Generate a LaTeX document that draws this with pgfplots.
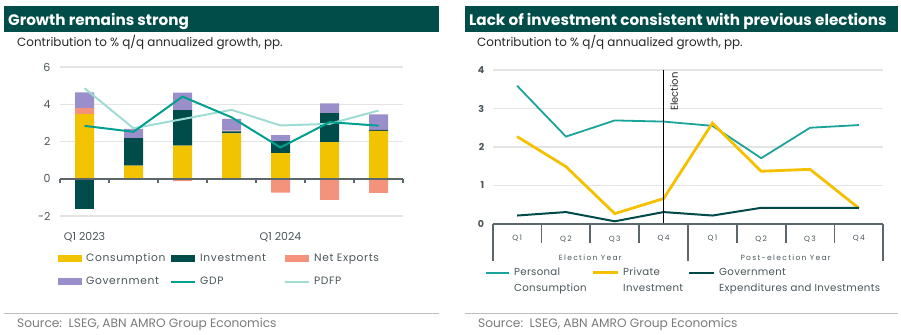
\documentclass[border=0pt]{standalone}
\usepackage{fontspec}
\setmainfont{Poppins}
\newfontfamily\lsfont[LetterSpace=6]{Poppins}
\newfontfamily\rlfont[LetterSpace=3]{Poppins}
\newfontfamily\qfont[LetterSpace=18]{Poppins}
\usepackage{pgfplots}
\pgfplotsset{compat=1.18}
\definecolor{hdr}{HTML}{004D4A}
\definecolor{ccons}{HTML}{F2C300}
\definecolor{cinv}{HTML}{004C4A}
\definecolor{cnx}{HTML}{F4937C}
\definecolor{cgov}{HTML}{9B8FCB}
\definecolor{cgdp}{HTML}{00A090}
\definecolor{cpdfp}{HTML}{9FDCD4}
\definecolor{gridc}{HTML}{E4E4E4}
\definecolor{axisc}{HTML}{5C676B}
\definecolor{tickc}{HTML}{4A5559}
\definecolor{srcc}{HTML}{7A7A7A}
\definecolor{rulec}{HTML}{BDBDBD}
\definecolor{cpc}{HTML}{1AA39A}
\definecolor{cpi}{HTML}{F5C000}
\definecolor{cgv}{HTML}{004B49}
\begin{document}
\begin{tikzpicture}
\path[use as bounding box] (0,0) rectangle (901bp,335bp);
% headers
\fill[hdr] (4bp,303bp) rectangle (439bp,329bp);
\fill[hdr] (465bp,303bp) rectangle (898bp,329bp);
\node[anchor=base west, text=white, inner sep=0pt, font=\fontsize{15.2bp}{17bp}\selectfont\bfseries] at (8bp,309bp) {Growth remains strong};
\node[anchor=base west, text=white, inner sep=0pt, font=\fontsize{15.2bp}{17bp}\selectfont\bfseries] at (469bp,309bp) {Lack of investment consistent with previous elections};
\node[anchor=base west, text=black!85, inner sep=0pt, font=\fontsize{11.95bp}{14bp}\selectfont] at (17bp,288bp) {Contribution to \% q/q annualized growth, pp.};
\node[anchor=base west, text=black!85, inner sep=0pt, font=\fontsize{11.95bp}{14bp}\selectfont] at (477bp,288bp) {Contribution to \% q/q annualized growth, pp.};
% source
\draw[rulec, line width=0.8bp] (4bp,22bp) -- (439bp,22bp);
\draw[rulec, line width=0.8bp] (465bp,22bp) -- (898bp,22bp);
\node[anchor=base west, text=srcc, inner sep=0pt, font=\fontsize{12.2bp}{14bp}\selectfont] at (17bp,7.5bp) {Source:\ \ LSEG, ABN AMRO Group Economics};
\node[anchor=base west, text=srcc, inner sep=0pt, font=\fontsize{12.2bp}{14bp}\selectfont] at (478bp,7.5bp) {Source:\ \ LSEG, ABN AMRO Group Economics};

% ---------- left chart: positive stacks ----------
\begin{axis}[
  at={(60bp,119bp)}, anchor=south west, scale only axis,
  width=343bp, height=149bp,
  xmin=-0.5, xmax=6.5, ymin=-2, ymax=6,
  ybar stacked, bar width=19bp,
  axis line style={draw=none}, major tick length=0pt,
  ymajorgrids, grid style={gridc, line width=1.1bp},
  xtick={0,4}, xticklabels={Q1 2023,Q1 2024},
  ytick={-2,0,2,4,6}, yticklabels={-2,0,2,4,6},
  tick label style={font=\fontsize{11bp}{13bp}\selectfont, text=tickc},
  xticklabel style={yshift=-13bp},
  yticklabel style={xshift=-6bp},
  clip=false,
  legend columns=3,
  legend style={at={(-0.006,-0.25)}, anchor=north west, draw=none, fill=none,
    inner sep=0pt, nodes={inner sep=0pt}, row sep=14bp,
    font=\lsfont\fontsize{10.7bp}{13bp}\selectfont, text=tickc,
    /tikz/every odd column/.append style={column sep=4bp}},
  legend cell align=left,
]
\addplot[fill=ccons, draw=none, legend image code/.code={\fill[ccons] (0bp,-3.5bp) rectangle (24bp,3.5bp);}]
  coordinates {(0,3.47) (1,0.70) (2,1.78) (3,2.44) (4,1.37) (5,1.96) (6,2.57)};
\addlegendentry{\makebox[84bp][l]{Consumption}}
\addplot[fill=cinv, draw=none, legend image code/.code={\fill[cinv] (0bp,-3.5bp) rectangle (24bp,3.5bp);}]
  coordinates {(0,0) (1,1.48) (2,1.90) (3,0.10) (4,0.65) (5,1.57) (6,0.05)};
\addlegendentry{\makebox[84bp][l]{Investment}}
\addplot[fill=cnx, draw=none, legend image code/.code={\fill[cnx] (0bp,-3.5bp) rectangle (24bp,3.5bp);}]
  coordinates {(0,0.32) (1,0) (2,0) (3,0.04) (4,0) (5,0) (6,0)};
\addlegendentry{\makebox[84bp][l]{Net Exports}}
\addplot[fill=cgov, draw=none, legend image code/.code={\fill[cgov] (0bp,-3.5bp) rectangle (24bp,3.5bp);}]
  coordinates {(0,0.85) (1,0.50) (2,0.95) (3,0.63) (4,0.32) (5,0.52) (6,0.84)};
\addlegendentry{\makebox[84bp][l]{Government}}
\addlegendimage{legend image code/.code={\draw[cgdp, line width=2bp] (0bp,0bp) -- (24bp,0bp);}}
\addlegendentry{\makebox[84bp][l]{GDP}}
\addlegendimage{legend image code/.code={\draw[cpdfp, line width=2bp] (0bp,0bp) -- (24bp,0bp);}}
\addlegendentry{\makebox[84bp][l]{PDFP}}
\end{axis}

% ---------- left chart: negative bars and lines ----------
\begin{axis}[
  at={(60bp,119bp)}, anchor=south west, scale only axis,
  width=343bp, height=149bp,
  xmin=-0.5, xmax=6.5, ymin=-2, ymax=6,
  hide axis, ybar, bar width=19bp, bar shift=0pt, clip=false,
]
\addplot[fill=cinv, draw=none] coordinates {(0,-1.60)};
\addplot[fill=cnx, draw=none] coordinates {(2,-0.13) (4,-0.75) (5,-1.14) (6,-0.76)};
\addplot[sharp plot, no marks, cpdfp, line width=2bp]
  coordinates {(0,4.86) (1,2.71) (2,3.20) (3,3.70) (4,2.86) (5,2.95) (6,3.66)};
\addplot[sharp plot, no marks, cgdp, line width=2bp]
  coordinates {(0,2.84) (1,2.52) (2,4.41) (3,3.30) (4,1.68) (5,3.04) (6,2.85)};
\draw[axisc, line width=1.5bp] (axis cs:-0.5,0) -- (axis cs:6.5,0);
\pgfplotsinvokeforeach{-0.5,0.5,1.5,2.5,3.5,4.5,5.5,6.5}{
  \draw[axisc, line width=1.2bp] (axis cs:#1,0) -- ++(0bp,-4bp);
}
\end{axis}

% ---------- right chart ----------
\begin{axis}[
  at={(492.7bp,111bp)}, anchor=south west, scale only axis,
  width=390.6bp, height=154bp,
  xmin=-0.5, xmax=7.5, ymin=0, ymax=4,
  axis line style={draw=none}, major tick length=0pt,
  ymajorgrids, grid style={gridc, line width=1.1bp},
  xtick={0,1,2,3,4,5,6,7}, xticklabels={Q1,Q2,Q3,Q4,Q1,Q2,Q3,Q4},
  ytick={0,1,2,3,4}, yticklabels={0,1,2,3,4},
  yticklabel style={font=\fontsize{9.5bp}{11bp}\selectfont\bfseries, text=tickc, xshift=-5bp},
  xticklabel style={font=\qfont\fontsize{7.5bp}{9bp}\selectfont, text=tickc, yshift=-8bp},
  clip=false,
  legend columns=3,
  legend style={at={(-0.0197,-0.262)}, anchor=north west, draw=none, fill=none,
    inner sep=0pt, nodes={inner sep=0pt},
    font=\rlfont\fontsize{10.2bp}{16bp}\selectfont, text=tickc,
    /tikz/every odd column/.append style={column sep=4bp}},
  legend cell align=left,
]
\addplot[sharp plot, no marks, cpc, line width=1.8bp,
  legend image code/.code={\draw[cpc, line width=2bp] (0bp,2bp) -- (23bp,2bp);}]
  coordinates {(0,3.59) (1,2.27) (2,2.69) (3,2.66) (4,2.55) (5,1.71) (6,2.50) (7,2.57)};
\addlegendentry{\makebox[77bp][l]{\begin{tabular}{@{}l@{}}Personal\\Consumption\end{tabular}}}
\addplot[sharp plot, no marks, cpi, line width=2.8bp,
  legend image code/.code={\draw[cpi, line width=3bp] (0bp,2bp) -- (25bp,2bp);}]
  coordinates {(0,2.27) (1,1.49) (2,0.27) (3,0.66) (4,2.62) (5,1.37) (6,1.42) (7,0.41)};
\addlegendentry{\makebox[65bp][l]{\begin{tabular}{@{}l@{}}Private\\Investment\end{tabular}}}
\addplot[sharp plot, no marks, cgv, line width=2bp,
  legend image code/.code={\draw[cgv, line width=2bp] (0bp,2bp) -- (25bp,2bp);}]
  coordinates {(0,0.22) (1,0.31) (2,0.07) (3,0.31) (4,0.22) (5,0.42) (6,0.42) (7,0.42)};
\addlegendentry{\begin{tabular}{@{}l@{}}Government\\Expenditures and Investments\end{tabular}}
\draw[black, line width=1.6bp] (axis cs:3,0) -- (axis cs:3,4);
\node[rotate=90, anchor=north east, inner sep=0pt, font=\fontsize{10bp}{12bp}\selectfont, text=black!85] at ([xshift=6.5bp, yshift=-2bp]axis cs:3,4) {Election};
\draw[axisc, line width=2bp] (axis cs:-0.5,0) -- (axis cs:7.5,0);
\pgfplotsinvokeforeach{0.5,1.5,2.5,4.5,5.5,6.5}{
  \draw[axisc, line width=1.8bp] (axis cs:#1,0) -- ++(0bp,-19bp);
}
\pgfplotsinvokeforeach{-0.5,3.5,7.5}{
  \draw[axisc, line width=1.8bp] (axis cs:#1,0) -- ++(0bp,-37bp);
}
\node[font=\qfont\fontsize{7.5bp}{9bp}\selectfont, text=tickc, inner sep=0pt] at ([yshift=-34bp]axis cs:1.5,0) {Election Year};
\node[font=\qfont\fontsize{7.5bp}{9bp}\selectfont, text=tickc, inner sep=0pt] at ([yshift=-34bp]axis cs:5.5,0) {Post-election Year};
\end{axis}
\end{tikzpicture}
\end{document}
